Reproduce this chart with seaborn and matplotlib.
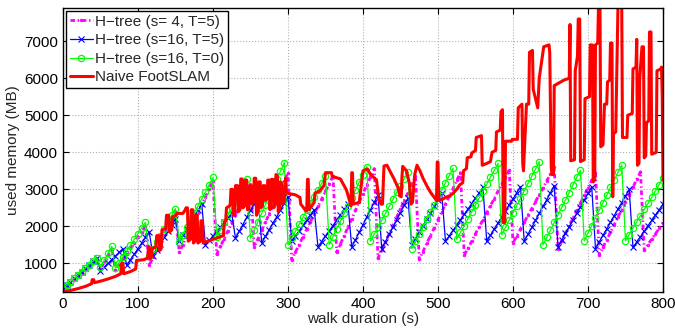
import numpy as np
import matplotlib
matplotlib.use("Agg")
import matplotlib.pyplot as plt
import seaborn as sns

# sample times of the H-tree curves (every 5 s)
t = np.arange(0, 801, 5)

# H-tree (s=4, T=5)
mag_mb = [320, 400, 490, 580, 660, 750, 840, 920, 1010, 1100,
          850, 1030, 1220, 1400,
          820, 970, 1120, 1260, 1410, 1560, 1710, 1850, 2000,
          950, 1160, 1360, 1570, 1780, 1990, 2190, 2400,
          1300, 1510, 1730, 1940, 2160, 2370, 2590, 2800, 3020, 3230,
          1250, 1460, 1670, 1880, 2090, 2310, 2520, 2730, 2940, 3150,
          1450, 1670, 1890, 2120, 2340, 2560, 2780, 3010, 3230, 3450,
          1100, 1310, 1510, 1720, 1920, 2130, 2330, 2540, 2740, 2950, 3150, 3360,
          1300, 1530, 1750, 1980, 2200, 2430, 2660, 2880, 3110, 3330, 3560,
          1140, 1360, 1580, 1800, 2020, 2250, 2470, 2690, 2910, 3130, 3350,
          1110, 1320, 1540, 1750, 1960, 2180, 2390, 2600, 2810, 3020, 3240, 3450,
          1220, 1410, 1600, 1800, 1990, 2180, 2370, 2560, 2750, 2950, 3140, 3330, 3520,
          1550, 1740, 1920, 2110, 2300, 2480, 2670, 2850, 3040, 3230, 3410, 3600,
          1400, 1610, 1810, 2020, 2220, 2430, 2630, 2840, 3040, 3250, 3450,
          1230, 1430, 1640, 1840, 2050, 2250, 2450, 2660, 2860, 3060, 3270, 3470,
          1360, 1510, 1660, 1800, 1950, 2100]

# H-tree (s=16, T=5)
blue_mb = [320, 410, 500, 600, 690, 780, 870, 960, 1060, 1150,
           800, 900, 1000, 1100, 1200, 1300, 1400,
           950, 1100, 1250, 1400, 1550, 1700, 1850,
           1200, 1370, 1530, 1700, 1870, 2030, 2200,
           1600, 1770, 1930, 2100, 2270, 2430, 2600,
           1500, 1620, 1740, 1860, 1980, 2110, 2230, 2350,
           1680, 1870, 2050, 2240, 2430, 2610, 2800,
           1550, 1730, 1910, 2090, 2260, 2440, 2620, 2800,
           1600, 1740, 1880, 2030, 2170, 2310, 2450,
           1450, 1590, 1740, 1880, 2020, 2170, 2310, 2460, 2600,
           1440, 1640, 1840, 2040, 2250, 2450, 2650, 2850,
           1400, 1590, 1790, 1980, 2180, 2370, 2570, 2760,
           1500, 1670, 1850, 2020, 2200, 2370, 2540, 2720, 2890,
           1600, 1745, 1890, 2035, 2180, 2325, 2470, 2615, 2760, 2905, 3050,
           1600, 1760, 1930, 2090, 2250, 2420, 2580, 2740, 2910, 3070,
           1600, 1790, 1970, 2160, 2350, 2540, 2720, 2910, 3100,
           1450, 1630, 1810, 1990, 2170, 2350, 2530, 2710, 2890, 3070,
           1400, 1580, 1760, 1930, 2110, 2290, 2470, 2640, 2820, 3000,
           1430, 1580, 1720, 1870, 2020, 2160, 2310, 2450, 2600]

# H-tree (s=16, T=0)
green_mb = [320, 410, 510, 600, 690, 780, 880, 970, 1060, 1150,
            900, 1090, 1270, 1460,
            870, 1020, 1180, 1330, 1490, 1650, 1800, 1960, 2110,
            1200, 1380, 1570, 1750, 1930, 2110, 2300, 2480,
            1590, 1780, 1970, 2170, 2360, 2550, 2740, 2930, 3130, 3320,
            1720, 1910, 2110, 2300, 2500, 2690, 2880, 3080, 3270,
            1680, 1910, 2130, 2360, 2590, 2810, 3040, 3270, 3490, 3720,
            1500, 1690, 1870, 2060, 2240, 2430, 2620, 2800, 2990, 3170, 3360,
            1510, 1720, 1930, 2140, 2350, 2560, 2770, 2980, 3190, 3400, 3610,
            1600, 1790, 1980, 2160, 2350, 2540, 2730, 2920, 3100, 3290, 3480,
            1400, 1600, 1790, 1990, 2190, 2390, 2580, 2780, 2980, 3180, 3370, 3570,
            1650, 1840, 2020, 2210, 2390, 2580, 2770, 2950, 3140, 3330, 3510, 3700,
            1770, 1970, 2170, 2360, 2560, 2760, 2960, 3160, 3350, 3550, 3750,
            1500, 1700, 1900, 2110, 2310, 2510, 2710, 2910, 3120, 3320, 3520,
            1610, 1820, 2020, 2230, 2430, 2640, 2840, 3050, 3250, 3460, 3660,
            1610, 1780, 1950, 2120, 2290, 2460, 2620, 2790, 2960, 3130, 3300]

# Naive FootSLAM
red_t = [0, 10, 20, 30, 38, 39, 41, 42, 50, 60, 70, 77, 78, 80, 81, 90, 97, 98, 108, 113,
         114, 115, 116, 118, 119, 124, 125, 128, 129, 131, 132, 137, 138, 141, 142, 145, 146, 151, 152, 160,
         163, 164, 166, 167, 170, 171, 173, 174, 176, 177, 179, 180, 183, 184, 186, 187, 200, 214, 215, 217,
         218, 222, 223, 224, 226, 227, 229, 230, 233, 234, 236, 237, 239, 240, 242, 243, 245, 246, 248, 249,
         251, 252, 254, 255, 257, 258, 260, 261, 263, 264, 266, 267, 269, 270, 272, 273, 275, 276, 278, 280,
         281, 283, 284, 286, 287, 289, 290, 292, 293, 295, 297, 298, 310, 316, 317, 324, 325, 326, 327, 328,
         335, 336, 342, 348, 350, 358, 359, 370, 378, 384, 385, 386, 387, 395, 400, 406, 410, 418, 421, 424,
         426, 428, 432, 437, 441, 447, 449, 451, 452, 453, 458, 462, 464, 466, 469, 472, 476, 480, 485, 490,
         495, 498, 499, 500, 501, 505, 510, 516, 520, 525, 529, 533, 534, 538, 539, 544, 545, 550, 551, 558,
         559, 565, 570, 572, 577, 578, 583, 584, 586, 587, 589, 590, 598, 599, 606, 607, 612, 613, 614, 616,
         618, 621, 622, 626, 627, 633, 635, 640, 641, 648, 649, 651, 652, 654, 655, 668, 675, 676, 677, 682,
         683, 686, 687, 689, 690, 695, 696, 702, 703, 706, 707, 709, 710, 713, 714, 716, 717, 720, 722, 725,
         726, 729, 730, 732, 733, 734, 737, 738, 739, 740, 745, 746, 752, 753, 759, 760, 764, 765, 766, 768,
         769, 772, 774, 775, 777, 778, 781, 782, 784, 785, 791, 792, 797, 798, 799, 800]
red_mb = [240, 270, 320, 380, 450, 560, 560, 480, 520, 580, 650, 720, 1000, 1000, 720, 780, 850, 1080, 1100, 1150,
          1450, 1450, 1120, 1180, 1400, 1450, 1750, 1750, 1350, 1400, 1900, 1950, 2300, 2300, 1850, 1900, 2250, 2300, 2350, 2350,
          2450, 2500, 2500, 1600, 1650, 2450, 2450, 1550, 1600, 2300, 2300, 1550, 1600, 2150, 2150, 1550, 1650, 1750, 2100, 2150,
          2500, 2550, 2600, 3000, 3000, 2300, 2350, 3100, 3100, 2400, 2450, 3280, 3280, 2500, 2550, 3250, 3250, 2450, 2500, 3100,
          3100, 2600, 2650, 3300, 3300, 2300, 2400, 3200, 3200, 2500, 2550, 3100, 3100, 2700, 2750, 3250, 3250, 2450, 3270, 3270,
          2500, 2600, 3400, 3350, 2400, 2500, 3200, 3150, 2600, 2700, 3300, 2900, 2850, 2780, 2600, 2420, 2420, 3270, 3270, 2450,
          2650, 2900, 2950, 3100, 3450, 3450, 3350, 3280, 2980, 2560, 3450, 3450, 2600, 2650, 3500, 3550, 3400, 3260, 2760, 2600,
          2600, 3630, 3650, 3450, 3300, 3030, 2820, 2800, 3350, 3620, 3500, 3150, 2600, 2650, 3400, 3650, 3500, 3300, 3100, 2920,
          2780, 2700, 3740, 3740, 2700, 2720, 2780, 2830, 2890, 3000, 3120, 3180, 3500, 3560, 3850, 3880, 3980, 4050, 4400, 4450,
          3650, 3700, 3750, 4000, 4050, 4550, 4600, 5100, 5150, 2100, 2100, 4300, 4300, 4350, 4350, 5200, 5300, 3700, 3500, 4400,
          5300, 5300, 6700, 6750, 5700, 5200, 6000, 6700, 6850, 6900, 6700, 3600, 3400, 3400, 5800, 5950, 6000, 7450, 3770, 3800,
          6200, 6600, 7600, 7600, 3750, 3800, 5450, 5500, 6900, 6900, 3200, 3250, 6900, 6950, 7950, 7950, 4150, 4200, 5300, 5300,
          5900, 5950, 6950, 6950, 2800, 4500, 4550, 5700, 6950, 7950, 7950, 4400, 4400, 5000, 5050, 6250, 6300, 7050, 3650, 3700,
          6000, 6850, 6850, 3850, 3900, 4800, 4850, 7250, 7250, 3950, 4000, 6200, 6250, 6300, 5500, 3250]

sns.set_style("white")
plt.rcParams['font.family'] = ['Liberation Sans', 'DejaVu Sans']

fig = plt.figure(figsize=(6.75, 3.28), dpi=100)
ax = fig.add_axes([0.0933, 0.110, 0.8889, 0.866])

sns.lineplot(x=t, y=mag_mb, ax=ax, color='#ff00ff', linestyle=(0, (1.6, 1.0, 0.5, 1.0)), linewidth=2.0,
             marker='.', markersize=4, markeredgecolor='#ff00ff', markeredgewidth=0.5,
             label='H\u2212tree (s= 4, T=5)', estimator=None, sort=False)
sns.lineplot(x=t, y=blue_mb, ax=ax, color='#0000ff', linewidth=0.9,
             marker='x', markersize=3.8, markeredgecolor='#0000ff', markeredgewidth=0.8,
             label='H\u2212tree (s=16, T=5)', estimator=None, sort=False)
sns.lineplot(x=t, y=green_mb, ax=ax, color='#00ff00', linewidth=0.9,
             marker='o', markersize=4.5, markerfacecolor='none', markeredgecolor='#00ff00',
             markeredgewidth=0.9, label='H\u2212tree (s=16, T=0)', estimator=None, sort=False)
sns.lineplot(x=red_t, y=red_mb, ax=ax, color='#ff0000', linewidth=2.2,
             label='Naive FootSLAM', estimator=None, sort=False)

ax.set_xlim(0, 800)
ax.set_ylim(230, 7900)
ax.set_xticks(range(0, 801, 100))
ax.set_yticks(range(1000, 7001, 1000))
ax.grid(True, linestyle=':', color='#b0b0b0', linewidth=0.8)
ax.set_axisbelow(True)
for s in ax.spines.values():
    s.set_color('black')
    s.set_linewidth(1.0)
ax.tick_params(direction='in', top=True, right=True, bottom=True, left=True,
               length=4, width=0.8, labelsize=11, colors='black')

ax.set_xlabel("walk duration (s)", fontsize=11, labelpad=1)
ax.set_ylabel("used memory (MB)", fontsize=11, labelpad=3)

leg = ax.legend(loc='upper left', bbox_to_anchor=(0, 1), borderaxespad=0.2,
                fontsize=11, frameon=True, fancybox=False, edgecolor='black',
                framealpha=1, handlelength=1.5, handletextpad=0.15,
                labelspacing=0.3, borderpad=0.25)
leg.get_frame().set_linewidth(1.0)

fig.savefig("out.png", dpi=100)
